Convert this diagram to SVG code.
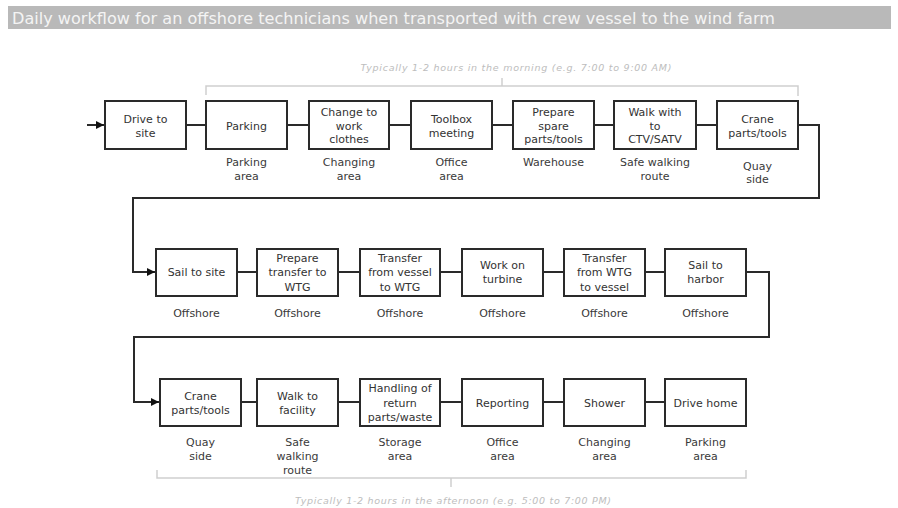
<svg xmlns="http://www.w3.org/2000/svg" width="898" height="508" viewBox="0 0 898 508">
<style>
.box{fill:#fff;stroke:#2a2a2a;stroke-width:2}
.t{font-family:"DejaVu Sans","Liberation Sans",sans-serif;font-size:11px;fill:#333;text-anchor:middle}
.lbl{font-family:"DejaVu Sans","Liberation Sans",sans-serif;font-size:11px;fill:#3a3a3a;text-anchor:middle}
.con{fill:none;stroke:#2a2a2a;stroke-width:2}
.br{fill:none;stroke:#cfcfcf;stroke-width:1.5}
.note{font-family:"DejaVu Sans","Liberation Sans",sans-serif;font-size:9.5px;font-style:italic;fill:#bdbdbd;text-anchor:middle}
</style>
<defs>
<marker id="arr" viewBox="0 0 10 10" refX="10" refY="5" markerWidth="4" markerHeight="4" orient="auto" markerUnits="strokeWidth">
<path d="M0,0 L10,5 L0,10 z" fill="#111"/>
</marker>
</defs>
<rect width="898" height="508" fill="#fff"/>
<g id="title">
<rect x="8" y="6" width="883" height="23" fill="#b9b9b9"/>
<text x="12" y="23.5" font-family="DejaVu Sans,'Liberation Sans',sans-serif" font-size="15" fill="#f4f4f4" textLength="763" lengthAdjust="spacingAndGlyphs">Daily workflow for an offshore technicians when transported with crew vessel to the wind farm</text>
</g>
<g id="connectors">
<path class="con" d="M87,125 H104" marker-end="url(#arr)"/>
<path class="con" d="M186,125 H206 M287,125 H309 M389,125 H411 M492,125 H513 M594,125 H614 M696,125 H717"/>
<path class="con" d="M798,125 H819 V198 H133 V272 H155" marker-end="url(#arr)"/>
<path class="con" d="M237,272 H257 M338,272 H360 M440,272 H462 M543,272 H564 M645,272 H665"/>
<path class="con" d="M746,272 H769 V337 H134 V402 H159" marker-end="url(#arr)"/>
<path class="con" d="M241,402 H257 M338,402 H360 M440,402 H462 M543,402 H564 M645,402 H665"/>
</g>
<g id="bracket-morning">
<path class="br" d="M206,95 V86 H798 V96 M502,86 V78"/>
<text class="note" x="516" y="71" textLength="311" lengthAdjust="spacing">Typically 1-2 hours in the morning (e.g. 7:00 to 9:00 AM)</text>
</g>
<g id="bracket-afternoon">
<path class="br" d="M157,470 V478 H746 V470 M451,478 V487"/>
<text class="note" x="453" y="504" textLength="316" lengthAdjust="spacing">Typically 1-2 hours in the afternoon (e.g. 5:00 to 7:00 PM)</text>
</g>
<!-- Row 1 -->
<g id="drive-to-site"><rect class="box" x="105" y="101" width="81" height="48"/><text class="t" x="145.5" y="123">Drive to</text><text class="t" x="145.5" y="137">site</text></g>
<g id="parking"><rect class="box" x="206" y="101" width="81" height="48"/><text class="t" x="246.5" y="130">Parking</text><text class="lbl" x="246.5" y="166">Parking</text><text class="lbl" x="246.5" y="180">area</text></g>
<g id="change-clothes"><rect class="box" x="309" y="101" width="80" height="48"/><text class="t" x="349" y="116">Change to</text><text class="t" x="349" y="130">work</text><text class="t" x="349" y="143">clothes</text><text class="lbl" x="349" y="166">Changing</text><text class="lbl" x="349" y="180">area</text></g>
<g id="toolbox"><rect class="box" x="411" y="101" width="81" height="48"/><text class="t" x="451.5" y="123">Toolbox</text><text class="t" x="451.5" y="137">meeting</text><text class="lbl" x="451.5" y="166">Office</text><text class="lbl" x="451.5" y="180">area</text></g>
<g id="prepare-spare"><rect class="box" x="513" y="101" width="81" height="48"/><text class="t" x="553.5" y="116">Prepare</text><text class="t" x="553.5" y="130">spare</text><text class="t" x="553.5" y="143">parts/tools</text><text class="lbl" x="553.5" y="166">Warehouse</text></g>
<g id="walk-ctv"><rect class="box" x="614" y="101" width="82" height="48"/><text class="t" x="655" y="116">Walk with</text><text class="t" x="655" y="130">to</text><text class="t" x="655" y="143">CTV/SATV</text><text class="lbl" x="655" y="166">Safe walking</text><text class="lbl" x="655" y="180">route</text></g>
<g id="crane-1"><rect class="box" x="717" y="101" width="81" height="48"/><text class="t" x="757.5" y="123">Crane</text><text class="t" x="757.5" y="137">parts/tools</text><text class="lbl" x="757.5" y="170">Quay</text><text class="lbl" x="757.5" y="183">side</text></g>
<!-- Row 2 -->
<g id="sail-to-site"><rect class="box" x="156" y="249" width="81" height="47"/><text class="t" x="196.5" y="276">Sail to site</text><text class="lbl" x="196.5" y="317">Offshore</text></g>
<g id="prepare-transfer"><rect class="box" x="257" y="249" width="81" height="47"/><text class="t" x="297.5" y="262">Prepare</text><text class="t" x="297.5" y="276">transfer to</text><text class="t" x="297.5" y="291">WTG</text><text class="lbl" x="297.5" y="317">Offshore</text></g>
<g id="transfer-vessel-wtg"><rect class="box" x="360" y="249" width="80" height="47"/><text class="t" x="400" y="262">Transfer</text><text class="t" x="400" y="276">from vessel</text><text class="t" x="400" y="291">to WTG</text><text class="lbl" x="400" y="317">Offshore</text></g>
<g id="work-turbine"><rect class="box" x="462" y="249" width="81" height="47"/><text class="t" x="502.5" y="269">Work on</text><text class="t" x="502.5" y="283">turbine</text><text class="lbl" x="502.5" y="317">Offshore</text></g>
<g id="transfer-wtg-vessel"><rect class="box" x="564" y="249" width="81" height="47"/><text class="t" x="604.5" y="262">Transfer</text><text class="t" x="604.5" y="276">from WTG</text><text class="t" x="604.5" y="291">to vessel</text><text class="lbl" x="604.5" y="317">Offshore</text></g>
<g id="sail-harbor"><rect class="box" x="665" y="249" width="81" height="47"/><text class="t" x="705.5" y="269">Sail to</text><text class="t" x="705.5" y="283">harbor</text><text class="lbl" x="705.5" y="317">Offshore</text></g>
<!-- Row 3 -->
<g id="crane-2"><rect class="box" x="160" y="379" width="81" height="47"/><text class="t" x="200.5" y="400">Crane</text><text class="t" x="200.5" y="414">parts/tools</text><text class="lbl" x="200.5" y="446">Quay</text><text class="lbl" x="200.5" y="460">side</text></g>
<g id="walk-facility"><rect class="box" x="257" y="379" width="81" height="47"/><text class="t" x="297.5" y="400">Walk to</text><text class="t" x="297.5" y="414">facility</text><text class="lbl" x="297.5" y="446">Safe</text><text class="lbl" x="297.5" y="460">walking</text><text class="lbl" x="297.5" y="474">route</text></g>
<g id="handling"><rect class="box" x="360" y="379" width="80" height="47"/><text class="t" x="400" y="392">Handling of</text><text class="t" x="400" y="407">return</text><text class="t" x="400" y="421">parts/waste</text><text class="lbl" x="400" y="446">Storage</text><text class="lbl" x="400" y="460">area</text></g>
<g id="reporting"><rect class="box" x="462" y="379" width="81" height="47"/><text class="t" x="502.5" y="407">Reporting</text><text class="lbl" x="502.5" y="446">Office</text><text class="lbl" x="502.5" y="460">area</text></g>
<g id="shower"><rect class="box" x="564" y="379" width="81" height="47"/><text class="t" x="604.5" y="407">Shower</text><text class="lbl" x="604.5" y="446">Changing</text><text class="lbl" x="604.5" y="460">area</text></g>
<g id="drive-home"><rect class="box" x="665" y="379" width="81" height="47"/><text class="t" x="705.5" y="407">Drive home</text><text class="lbl" x="705.5" y="446">Parking</text><text class="lbl" x="705.5" y="460">area</text></g>
</svg>
